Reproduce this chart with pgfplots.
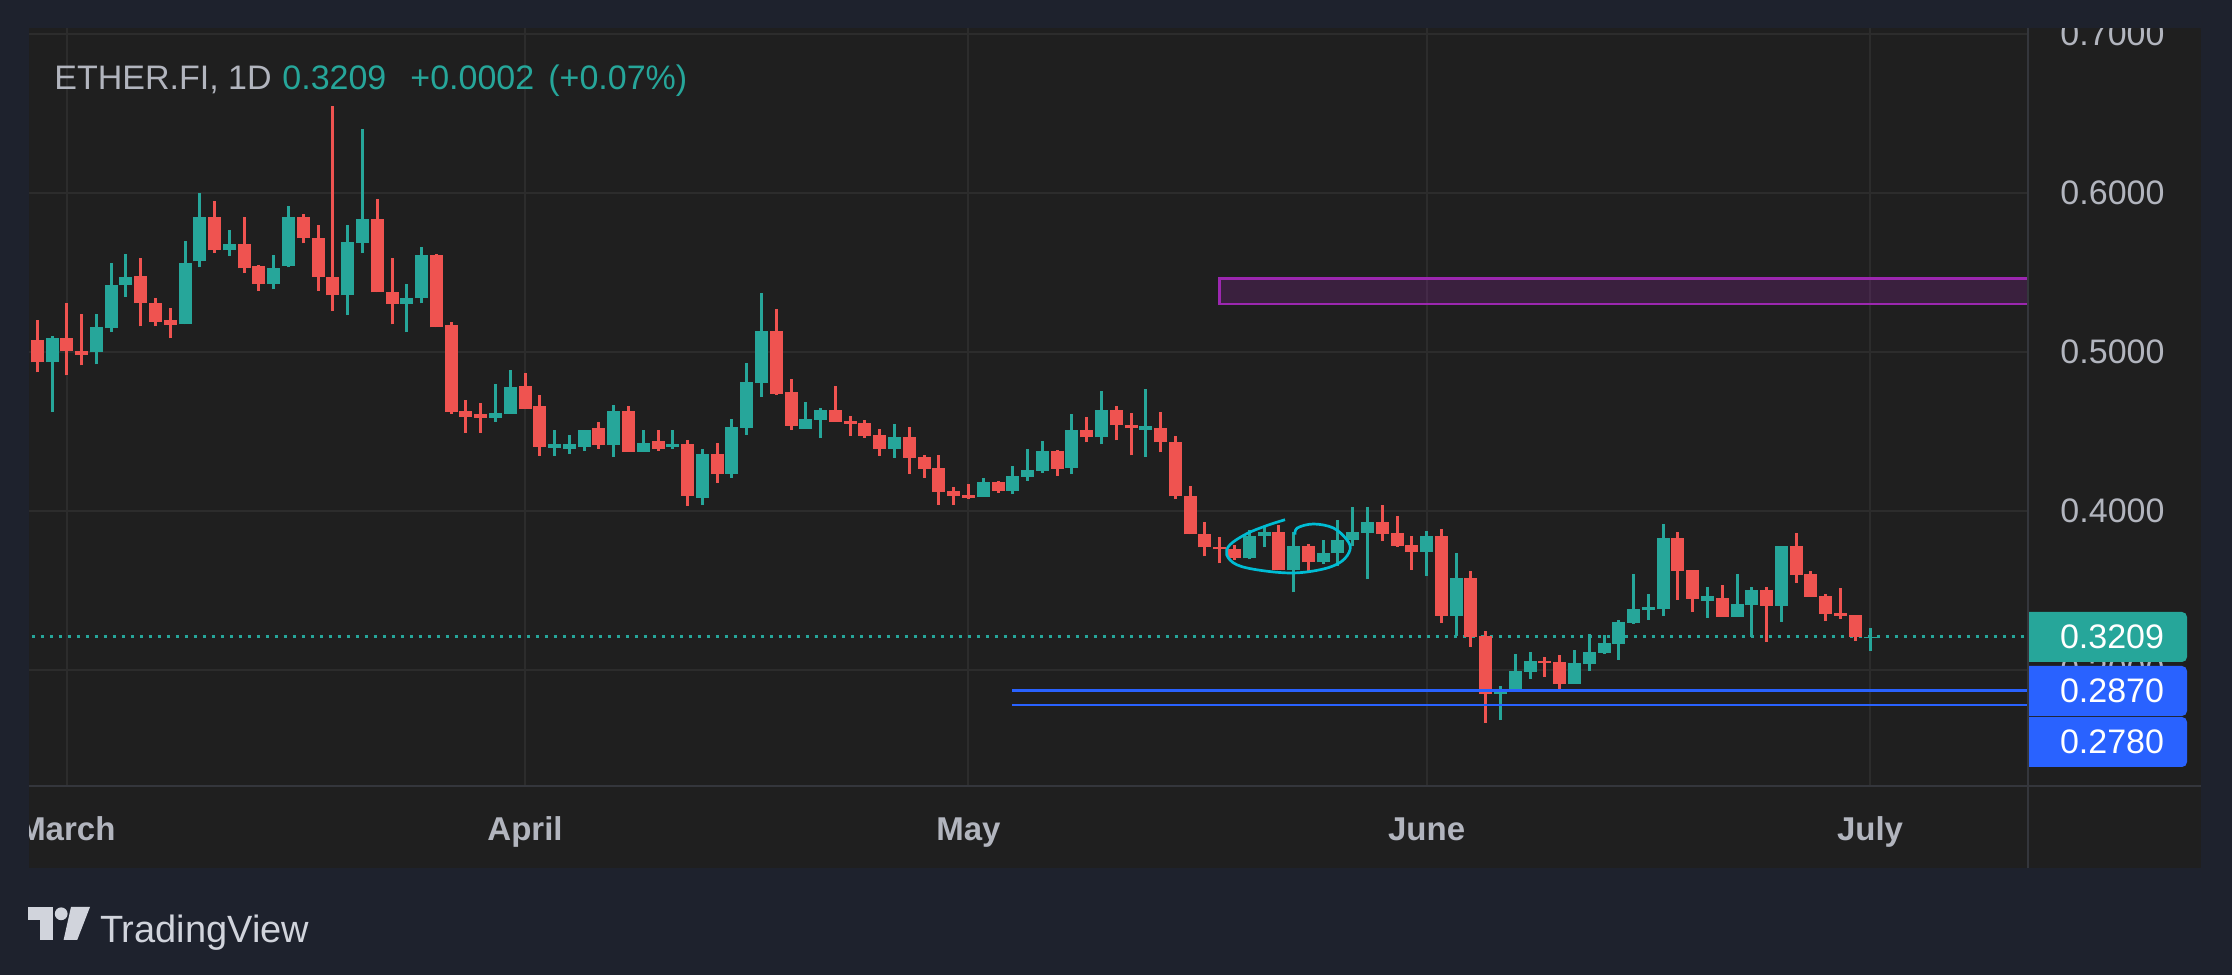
\documentclass[border=0pt]{standalone}
\usepackage{fontspec}
\setmainfont{Liberation Sans}
\usepackage{pgfplots}
\pgfplotsset{compat=1.18}
\usepackage{pgfplotstable}
\definecolor{outerbg}{HTML}{1E222D}
\definecolor{panelbg}{HTML}{1F1F1F}
\definecolor{gridc}{HTML}{2C2C2C}
\definecolor{sepc}{HTML}{34363C}
\definecolor{axgray}{HTML}{B2B5BE}
\definecolor{tvgreen}{HTML}{26A69A}
\definecolor{tvred}{HTML}{EF5350}
\definecolor{tvblue}{HTML}{2962FF}
\definecolor{tvpurple}{HTML}{9C27B0}
\definecolor{tvcyan}{HTML}{00BCD4}
\definecolor{logoc}{HTML}{D1D4DC}

% n = day index (0 = 28 Feb 2024), O H L C
\pgfplotstableread{
n O H L C
0 0.5078 0.5203 0.4872 0.4935
2 0.5090 0.5310 0.4853 0.5004
3 0.5008 0.5241 0.4916 0.4983
7 0.5480 0.5593 0.5161 0.5306
8 0.5310 0.5342 0.5161 0.5187
9 0.5203 0.5279 0.5086 0.5168
12 0.5851 0.5952 0.5621 0.5639
14 0.5681 0.5851 0.5495 0.5526
15 0.5543 0.5549 0.5382 0.5426
18 0.5851 0.5870 0.5683 0.5715
19 0.5719 0.5801 0.5382 0.5470
20 0.5474 0.6549 0.5256 0.5356
23 0.5839 0.5964 0.5375 0.5375
24 0.5379 0.5593 0.5174 0.5300
27 0.5612 0.5618 0.5155 0.5155
28 0.5170 0.5189 0.4612 0.4625
29 0.4629 0.4698 0.4493 0.4593
30 0.4610 0.4679 0.4493 0.4587
33 0.4786 0.4868 0.4644 0.4644
34 0.4660 0.4730 0.4348 0.4405
38 0.4522 0.4560 0.4392 0.4417
40 0.4629 0.4660 0.4373 0.4373
42 0.4440 0.4509 0.4379 0.4392
44 0.4421 0.4447 0.4034 0.4096
46 0.4361 0.4428 0.4178 0.4235
50 0.5132 0.5270 0.4730 0.4736
51 0.4748 0.4830 0.4512 0.4537
54 0.4635 0.4786 0.4562 0.4562
55 0.4568 0.4597 0.4474 0.4549
56 0.4553 0.4572 0.4461 0.4474
57 0.4478 0.4516 0.4348 0.4392
59 0.4465 0.4528 0.4235 0.4335
60 0.4340 0.4352 0.4210 0.4266
61 0.4270 0.4352 0.4040 0.4122
62 0.4126 0.4151 0.4040 0.4096
63 0.4103 0.4170 0.4078 0.4084
65 0.4182 0.4189 0.4115 0.4128
69 0.4377 0.4384 0.4222 0.4266
71 0.4512 0.4593 0.4432 0.4463
73 0.4637 0.4662 0.4444 0.4539
74 0.4543 0.4618 0.4350 0.4520
76 0.4524 0.4625 0.4369 0.4432
77 0.4436 0.4474 0.4073 0.4092
78 0.4096 0.4159 0.3853 0.3853
79 0.3857 0.3933 0.3715 0.3771
80 0.3776 0.3839 0.3671 0.3759
81 0.3763 0.3788 0.3690 0.3702
84 0.3870 0.3914 0.3627 0.3627
86 0.3782 0.3795 0.3614 0.3677
91 0.3931 0.4038 0.3811 0.3855
92 0.3862 0.3969 0.3774 0.3780
93 0.3786 0.3843 0.3629 0.3742
95 0.3843 0.3887 0.3296 0.3340
97 0.3579 0.3623 0.3147 0.3210
98 0.3214 0.3245 0.2669 0.2851
102 0.3057 0.3082 0.2958 0.3042
103 0.3050 0.3094 0.2864 0.2914
111 0.3830 0.3868 0.3442 0.3625
112 0.3629 0.3629 0.3367 0.3449
114 0.3453 0.3535 0.3335 0.3335
117 0.3503 0.3522 0.3178 0.3405
119 0.3780 0.3862 0.3549 0.3600
120 0.3604 0.3623 0.3461 0.3461
121 0.3465 0.3478 0.3310 0.3354
122 0.3358 0.3514 0.3323 0.3342
123 0.3346 0.3346 0.3184 0.3210
}\redtab

\pgfplotstableread{
n O H L C
1 0.4935 0.5103 0.4621 0.5090
4 0.4998 0.5241 0.4922 0.5159
5 0.5149 0.5562 0.5124 0.5423
6 0.5419 0.5618 0.5344 0.5474
10 0.5174 0.5700 0.5174 0.5562
11 0.5570 0.6002 0.5532 0.5851
13 0.5639 0.5769 0.5602 0.5681
16 0.5426 0.5612 0.5394 0.5530
17 0.5539 0.5920 0.5532 0.5851
21 0.5356 0.5801 0.5231 0.5694
22 0.5688 0.6405 0.5621 0.5839
25 0.5300 0.5430 0.5124 0.5342
26 0.5338 0.5662 0.5306 0.5612
31 0.4587 0.4799 0.4562 0.4616
32 0.4612 0.4887 0.4612 0.4780
35 0.4398 0.4509 0.4348 0.4421
36 0.4392 0.4478 0.4361 0.4421
37 0.4405 0.4509 0.4379 0.4509
39 0.4417 0.4667 0.4342 0.4629
41 0.4373 0.4509 0.4373 0.4428
43 0.4405 0.4509 0.4392 0.4421
45 0.4084 0.4390 0.4040 0.4361
47 0.4235 0.4579 0.4210 0.4528
48 0.4524 0.4931 0.4480 0.4811
49 0.4807 0.5371 0.4719 0.5132
52 0.4518 0.4686 0.4518 0.4579
53 0.4574 0.4648 0.4461 0.4635
58 0.4392 0.4547 0.4335 0.4465
64 0.4090 0.4208 0.4090 0.4182
66 0.4128 0.4283 0.4109 0.4220
67 0.4216 0.4390 0.4191 0.4258
68 0.4254 0.4440 0.4241 0.4377
70 0.4268 0.4612 0.4231 0.4512
72 0.4463 0.4757 0.4419 0.4637
75 0.4512 0.4769 0.4338 0.4533
82 0.3702 0.3883 0.3696 0.3845
83 0.3841 0.3908 0.3771 0.3870
85 0.3627 0.3870 0.3488 0.3782
87 0.3677 0.3820 0.3665 0.3738
88 0.3734 0.3945 0.3652 0.3820
89 0.3816 0.4027 0.3778 0.3870
90 0.3864 0.4027 0.3570 0.3933
94 0.3742 0.3874 0.3591 0.3843
96 0.3340 0.3736 0.3216 0.3579
99 0.2851 0.2899 0.2688 0.2874
100 0.2870 0.3101 0.2870 0.2994
101 0.2990 0.3113 0.2946 0.3057
104 0.2914 0.3126 0.2914 0.3044
105 0.3040 0.3226 0.2996 0.3113
106 0.3109 0.3220 0.3103 0.3170
107 0.3166 0.3314 0.3065 0.3302
108 0.3298 0.3604 0.3291 0.3384
109 0.3375 0.3478 0.3317 0.3396
110 0.3386 0.3918 0.3342 0.3830
113 0.3436 0.3522 0.3329 0.3465
115 0.3335 0.3604 0.3335 0.3415
116 0.3411 0.3522 0.3210 0.3503
118 0.3405 0.3780 0.3304 0.3780
124 0.3199 0.3264 0.3119 0.3209
}\greentab

\begin{document}
\begin{tikzpicture}
\fill[outerbg] (0,0) rectangle (1116bp,487.5bp);
\fill[panelbg] (14.25bp,53.5bp) rectangle (1100.5bp,473.3bp);
\begin{axis}[
  at={(14.25bp,94.6bp)}, anchor=south west,
  width=1000bp, height=378.7bp, scale only axis,
  xmin=-0.595, xmax=134.72, ymin=0.22717, ymax=0.70346,
  axis line style={draw=none},
  major tick length=0pt,
  xtick={2,33,63,94,124},
  xticklabels={March,April,May,June,July},
  ytick={0.3,0.4,0.5,0.6,0.7},
  yticklabel pos=right,
  yticklabel={\pgfmathprintnumber[fixed,fixed zerofill,precision=4,assume math mode=true]{\tick}},
  grid=major, grid style={gridc, line width=1bp},
  x tick label style={font=\bfseries\fontsize{16.5bp}{19bp}\selectfont, text=axgray, anchor=base, inner sep=0pt, yshift=-27.4bp},
  y tick label style={font=\fontsize{17bp}{20bp}\selectfont, text=axgray, anchor=west, inner sep=0pt, xshift=15.8bp},
]
% last-price dotted line (behind candles)
\addplot[forget plot, tvgreen, line width=1.5bp, dash pattern=on 1.5bp off 3bp] coordinates {(-1,0.3209) (140,0.3209)};
% purple zone
\addplot[forget plot, draw=tvpurple, line width=1.35bp, fill=tvpurple, fill opacity=0.22] coordinates {(79.97,0.5302) (140,0.5302) (140,0.5464) (79.97,0.5464)} -- cycle;
% wicks
\addplot[forget plot, draw=none, no markers, error bars/.cd, y dir=plus, y explicit, error mark=none, error bar style={line width=1.5bp, draw=tvred}]
  table[x=n, y=L, y error expr=\thisrow{H}-\thisrow{L}] {\redtab};
\addplot[forget plot, draw=none, no markers, error bars/.cd, y dir=plus, y explicit, error mark=none, error bar style={line width=1.5bp, draw=tvgreen}]
  table[x=n, y=L, y error expr=\thisrow{H}-\thisrow{L}] {\greentab};
% bodies
\addplot[forget plot, draw=none, no markers, error bars/.cd, y dir=plus, y explicit, error mark=none, error bar style={line width=6.5bp, draw=tvred}]
  table[x=n, y=C, y error expr={max(\thisrow{O}-\thisrow{C},0.0009)}] {\redtab};
\addplot[forget plot, draw=none, no markers, error bars/.cd, y dir=plus, y explicit, error mark=none, error bar style={line width=6.5bp, draw=tvgreen}]
  table[x=n, y=O, y error expr={max(\thisrow{C}-\thisrow{O},0.0009)}] {\greentab};
% support lines
\addplot[forget plot, tvblue, line width=1.35bp] coordinates {(65.95,0.2870) (140,0.2870)};
\addplot[forget plot, tvblue, line width=1.35bp] coordinates {(65.95,0.2780) (140,0.2780)};
% hand-drawn loop
\addplot[forget plot, tvcyan, line width=1.35bp, smooth, tension=0.6] coordinates {
(85.10,0.3851) (85.25,0.3893) (86.34,0.3918) (87.69,0.3893) (88.59,0.3820) (88.82,0.3757)
(88.25,0.3683) (87.01,0.3635) (84.98,0.3610) (82.73,0.3627) (81.15,0.3662) (80.47,0.3725)
(80.70,0.3788) (81.83,0.3857) (83.18,0.3908) (84.42,0.3945)};
\end{axis}
% clip emulation of panel edges
\fill[outerbg] (0,473.3bp) rectangle (1116bp,487.5bp);
\fill[outerbg] (0,0) rectangle (14.25bp,487.5bp);
% separators
\draw[sepc, line width=1bp] (1014.2bp,53.5bp) -- (1014.2bp,473.3bp);
\draw[sepc, line width=1bp] (14.25bp,94.6bp) -- (1100.5bp,94.6bp);
% price labels
\fill[tvgreen] (1014.5bp,156.5bp) [rounded corners=2.5bp] -- (1093.5bp,156.5bp) -- (1093.5bp,181.5bp) [sharp corners] -- (1014.5bp,181.5bp) -- cycle;
\fill[tvblue] (1014.5bp,129.5bp) [rounded corners=2.5bp] -- (1093.5bp,129.5bp) -- (1093.5bp,154.5bp) [sharp corners] -- (1014.5bp,154.5bp) -- cycle;
\fill[tvblue] (1014.5bp,104bp) [rounded corners=2.5bp] -- (1093.5bp,104bp) -- (1093.5bp,129bp) [sharp corners] -- (1014.5bp,129bp) -- cycle;
\node[anchor=west, inner sep=0pt, text=white, font=\fontsize{17bp}{20bp}\selectfont] at (1029.8bp,169bp) {0.3209};
\node[anchor=west, inner sep=0pt, text=white, font=\fontsize{17bp}{20bp}\selectfont] at (1029.8bp,142bp) {0.2870};
\node[anchor=west, inner sep=0pt, text=white, font=\fontsize{17bp}{20bp}\selectfont] at (1029.8bp,116.5bp) {0.2780};
% header
\node[anchor=base west, inner sep=0pt, text=axgray, font=\fontsize{17bp}{20bp}\selectfont] at (27bp,442.5bp) {ETHER.FI, 1D};
\node[anchor=base west, inner sep=0pt, text=tvgreen, font=\fontsize{17bp}{20bp}\selectfont] at (141bp,442.5bp) {0.3209};
\node[anchor=base west, inner sep=0pt, text=tvgreen, font=\fontsize{17bp}{20bp}\selectfont] at (205bp,442.5bp) {+0.0002};
\node[anchor=base west, inner sep=0pt, text=tvgreen, font=\fontsize{17bp}{20bp}\selectfont] at (274bp,442.5bp) {(+0.07\%)};
% TradingView logo
\fill[logoc] (14.2bp,34bp) rectangle (26.5bp,27.6bp);
\fill[logoc] (20bp,34bp) rectangle (26.5bp,17.5bp);
\fill[logoc] (30.6bp,30.6bp) circle (3.2bp);
\fill[logoc] (35.5bp,34bp) -- (45bp,34bp) -- (38.6bp,17.5bp) -- (31.8bp,17.5bp) -- cycle;
\node[anchor=base west, inner sep=0pt, text=logoc, font=\fontsize{19bp}{22bp}\selectfont] at (49.8bp,16.5bp) {TradingView};
\pgfresetboundingbox
\useasboundingbox (0,0) rectangle (1116bp,487.5bp);
\end{tikzpicture}
\end{document}
